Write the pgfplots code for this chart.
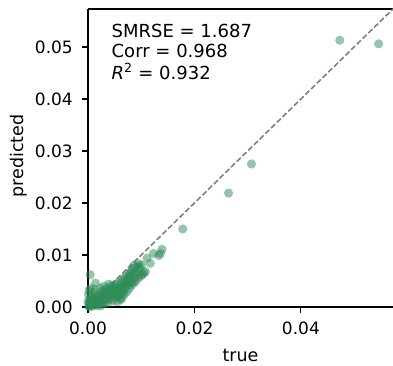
\documentclass[border=0pt]{standalone}
\usepackage{fontspec}
\setmainfont{DejaVu Sans}
\usepackage{pgfplots}
\pgfplotsset{compat=1.18}
\definecolor{ptgreen}{RGB}{46,139,87}
\definecolor{dashgray}{RGB}{128,128,128}
\begin{document}
\begin{tikzpicture}
\begin{axis}[
  name=ax,
  scale only axis,
  width=305pt, height=298pt,
  xmin=0, xmax=0.0573, ymin=0, ymax=0.0573,
  axis x line*=box, axis y line*=left,
  xtick={0,0.02,0.04}, ytick={0,0.01,0.02,0.03,0.04,0.05},
  xtick pos=bottom, ytick pos=left,
  tick align=outside, major tick length=6pt,
  every tick/.style={black, line width=1.1pt},
  axis line style={black, line width=1.1pt},
  scaled ticks=false,
  /pgf/number format/assume math mode=true,
  xticklabel={\pgfmathprintnumber[fixed,fixed zerofill,precision=2]{\tick}},
  yticklabel={\pgfmathprintnumber[fixed,fixed zerofill,precision=2]{\tick}},
  tick label style={font=\fontsize{17}{20}\selectfont, inner sep=0pt},
  xticklabel style={anchor=north, yshift=-9pt},
  yticklabel style={anchor=east, xshift=-9pt},
  label style={font=\fontsize{17.5}{20}\selectfont, inner sep=0pt},
  xlabel={true}, ylabel={predicted},
  xlabel style={at={(rel axis cs:0.5,0)}, anchor=base, yshift=-54pt},
  ylabel style={at={(rel axis cs:0,0.507)}, anchor=north, yshift=78pt},
  clip=true,
]
\addplot[only marks, mark=*, mark size=4.6pt, color=ptgreen, mark options={fill=ptgreen, fill opacity=0.5, draw opacity=0}] table[x=x, y=y] {
x y
0.0001 0.0002
0.0002 0.0008
0.0003 0.0015
0.0001 0.0024
0.0004 0.0003
0.0005 0.0011
0.0006 0.0020
0.0007 0.0005
0.0008 0.0014
0.0009 0.0002
0.0010 0.0028
0.0010 0.0009
0.0011 0.0017
0.0012 0.0004
0.0013 0.0012
0.0014 0.0022
0.0015 0.0007
0.0016 0.0015
0.0017 0.0003
0.0018 0.0010
0.0019 0.0020
0.0002 0.0032
0.0005 0.0036
0.0004 0.0062
0.0014 0.0046
0.0003 0.0000
0.0000 0.0010
0.0012 0.0034
0.0020 0.0006
0.0021 0.0014
0.0022 0.0023
0.0023 0.0002
0.0024 0.0018
0.0025 0.0030
0.0026 0.0010
0.0027 0.0024
0.0028 0.0005
0.0029 0.0016
0.0030 0.0032
0.0031 0.0020
0.0032 0.0009
0.0033 0.0027
0.0034 0.0014
0.0035 0.0035
0.0036 0.0022
0.0037 0.0008
0.0038 0.0029
0.0039 0.0018
0.0023 0.0036
0.0030 0.0040
0.0039 0.0044
0.0040 0.0025
0.0041 0.0036
0.0042 0.0015
0.0043 0.0030
0.0044 0.0041
0.0045 0.0022
0.0046 0.0034
0.0047 0.0012
0.0048 0.0028
0.0049 0.0039
0.0050 0.0020
0.0051 0.0033
0.0052 0.0044
0.0053 0.0026
0.0054 0.0037
0.0055 0.0018
0.0055 0.0010
0.0056 0.0030
0.0057 0.0046
0.0058 0.0024
0.0059 0.0035
0.0060 0.0020
0.0061 0.0014
0.0061 0.0040
0.0062 0.0031
0.0063 0.0048
0.0064 0.0026
0.0064 0.0017
0.0065 0.0036
0.0066 0.0052
0.0067 0.0030
0.0068 0.0043
0.0068 0.0024
0.0069 0.0056
0.0070 0.0038
0.0070 0.0045
0.0072 0.0048
0.0073 0.0029
0.0073 0.0060
0.0075 0.0042
0.0075 0.0050
0.0076 0.0055
0.0078 0.0036
0.0078 0.0066
0.0079 0.0046
0.0080 0.0058
0.0080 0.0064
0.0082 0.0042
0.0082 0.0070
0.0083 0.0050
0.0085 0.0064
0.0086 0.0046
0.0086 0.0080
0.0087 0.0074
0.0088 0.0056
0.0090 0.0050
0.0090 0.0068
0.0092 0.0078
0.0094 0.0062
0.0095 0.0056
0.0095 0.0083
0.0096 0.0072
0.0097 0.0077
0.0100 0.0060
0.0101 0.0081
0.0103 0.0063
0.0105 0.0066
0.0108 0.0068
0.0111 0.0094
0.0117 0.0084
0.0123 0.0103
0.0133 0.0099
0.0136 0.0103
0.0139 0.0111
0.0178 0.0150
0.0264 0.0219
0.0307 0.0275
0.0473 0.0513
0.0546 0.0506
};
\addplot[dashgray, line width=1.6pt, dash pattern=on 5.5pt off 2.5pt] coordinates {(0,0) (0.0573,0.0573)};
\node[anchor=base west, inner sep=0pt, font=\fontsize{18}{20}\selectfont] at (rel axis cs:0.077,0.906) {SMRSE = 1.687};
\node[anchor=base west, inner sep=0pt, font=\fontsize{18}{20}\selectfont] at (rel axis cs:0.077,0.8356) {Corr = 0.968};
\node[anchor=base west, inner sep=0pt, font=\fontsize{18}{20}\selectfont] at (rel axis cs:0.077,0.765) {\textit{R}\textsuperscript{2} = 0.932};
\end{axis}
\pgfresetboundingbox
\path[use as bounding box] ([shift={(-88pt,-59pt)}]ax.south west) rectangle ([shift={(0pt,9pt)}]ax.north east);
\end{tikzpicture}
\end{document}
